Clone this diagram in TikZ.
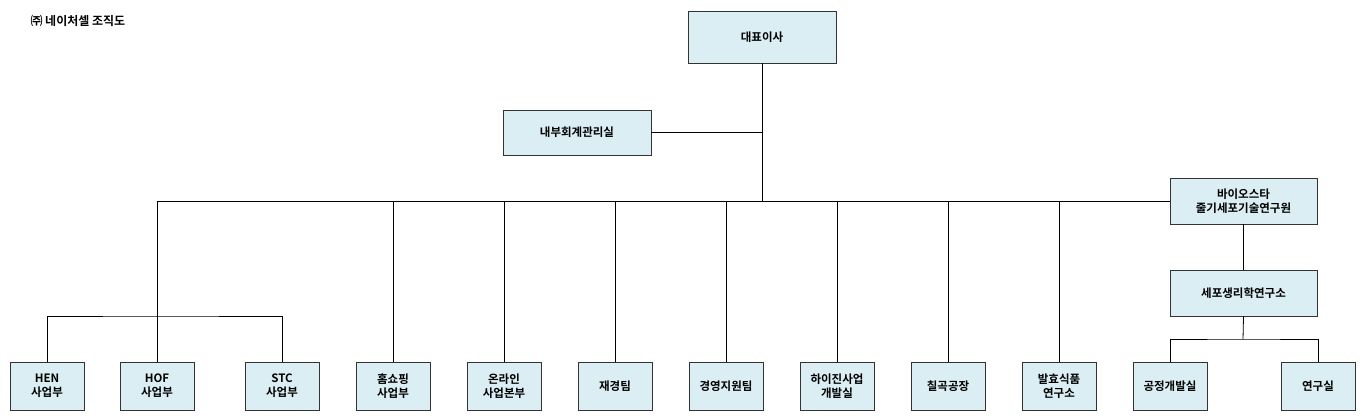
\documentclass[tikz,border=0pt]{standalone}
\usepackage{fontspec}
\setmainfont{Noto Sans CJK KR}[BoldFont={* Bold}]
\definecolor{boxfill}{HTML}{DAEEF3}
\begin{document}
\begin{tikzpicture}[x=1pt,y=-1pt,
  box/.style={draw=black!80,fill=boxfill,line width=0.8pt,align=center,font=\fontsize{11.5}{14}\selectfont\bfseries,inner sep=0pt},
  ln/.style={line width=0.8pt}]
\useasboundingbox (0,0) rectangle (1362,418);
\node[anchor=west,font=\fontsize{12}{14}\selectfont\bfseries] (title) at (27,21) {㈜ 네이처셀 조직도};
\newcommand{\bx}[6]{\node[box,minimum width=#4-#3,minimum height=#6-#5] (#1) at ({(#3+#4)/2},{(#5+#6)/2}) {#2};}
\bx{ceo}{대표이사}{688}{836}{11}{63}
\bx{audit}{내부회계관리실}{503}{651}{110}{155}
\bx{bio}{바이오스타\\줄기세포기술연구원}{1170}{1317}{178}{224}
\bx{cell}{세포생리학연구소}{1170}{1317}{270}{316}
\bx{hen}{HEN\\사업부}{10}{84}{362}{410}
\bx{hof}{HOF\\사업부}{120}{194}{362}{410}
\bx{stc}{STC\\사업부}{245}{319}{362}{410}
\bx{home}{홈쇼핑\\사업부}{356}{430}{362}{410}
\bx{online}{온라인\\사업본부}{467}{541}{362}{410}
\bx{fin}{재경팀}{578}{652}{362}{410}
\bx{mgmt}{경영지원팀}{689}{763}{362}{410}
\bx{hygin}{하이진사업\\개발실}{800}{874}{362}{410}
\bx{chil}{칠곡공장}{911}{985}{362}{410}
\bx{ferm}{발효식품\\연구소}{1022}{1096}{362}{410}
\bx{proc}{공정개발실}{1133}{1207}{362}{410}
\bx{lab}{연구실}{1281}{1355}{362}{410}
\coordinate (j) at (762,201);
\coordinate (g) at (157,201);
\coordinate (k) at (157,316);
\draw[ln] (ceo.south) -- (j);
\draw[ln] (audit.east) -- (audit.east -| ceo.south);
\draw[ln] (g) -- (bio.west |- j);
\draw[ln] (g) -- (k);
\draw[ln] (hen.north) |- (k) -| (stc.north);
\draw[ln] (k) -- (hof.north);
\foreach \n in {home,online,fin,mgmt,hygin,chil,ferm}{\draw[ln] (\n.north) -- (\n.north |- j);}
\draw[ln] (bio) -- (cell);
\coordinate (m) at (1243,339);
\draw[ln] (cell.south) -- (m);
\draw[ln] (proc.north) |- (m) -| (lab.north);
\end{tikzpicture}
\end{document}
